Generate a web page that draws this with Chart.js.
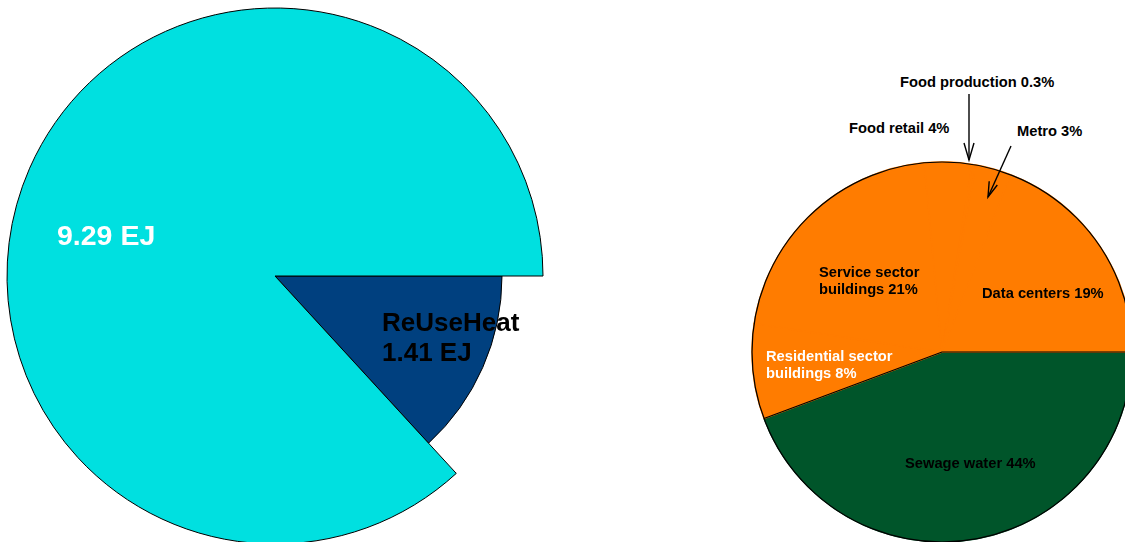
<!DOCTYPE html>
<html>
<head>
<meta charset="utf-8">
<script src="https://cdn.jsdelivr.net/npm/chart.js@4.4.1/dist/chart.umd.min.js"></script>
<style>
  html, body { margin:0; padding:0; background:#fff; }
  body { width:1125px; height:542px; overflow:hidden; position:relative; font-family:"Liberation Sans", Arial, sans-serif; }
  canvas { position:absolute; }
  .lbl { position:absolute; font-weight:bold; white-space:nowrap; }
  .s { font-size:14.7px; line-height:17px; color:#000; }
</style>
</head>
<body>
<canvas id="left" width="550" height="552" style="left:0;top:0;width:550px;height:552px"></canvas>
<canvas id="right" width="400" height="400" style="left:742px;top:152px;width:400px;height:400px"></canvas>

<div class="lbl" style="left:57px;top:219px;font-size:28.5px;line-height:32px;color:#fff">9.29 EJ</div>
<div class="lbl" style="left:382px;top:307px;font-size:26px;line-height:30px;color:#000">ReUseHeat<br>1.41 EJ</div>

<div class="lbl s" style="left:900px;top:74.4px">Food production 0.3%</div>
<div class="lbl s" style="left:849px;top:120.4px">Food retail 4%</div>
<div class="lbl s" style="left:1017px;top:123.4px">Metro 3%</div>
<div class="lbl s" style="left:819px;top:264.4px">Service sector<br>buildings 21%</div>
<div class="lbl s" style="left:982px;top:285.4px">Data centers 19%</div>
<div class="lbl s" style="left:766px;top:348.4px;color:#fff">Residential sector<br>buildings 8%</div>
<div class="lbl s" style="left:905px;top:455.4px">Sewage water 44%</div>

<svg width="1125" height="542" style="position:absolute;left:0;top:0;pointer-events:none">
  <g stroke="#000" stroke-width="1.4" fill="none">
    <line x1="969" y1="94" x2="969" y2="160"/>
    <polyline points="964,143 969,160 974,143"/>
    <line x1="1011" y1="146" x2="988" y2="197"/>
    <polyline points="997.3,185 988,197 989.2,181.2"/>
  </g>
</svg>

<script>
// Left pie: energy (EJ)
const leftLabels = ['ReUseHeat', 'Other'];
const leftValues = [1.41, 9.29];
const leftColors = ['#00407F', '#00E0E0'];

// Right pie: shares (%)
const rightLabels = ['Sewage water', 'Residential sector buildings', 'Service sector buildings',
                     'Food retail', 'Food production', 'Metro', 'Data centers'];
const rightValues = [44, 8, 21, 4, 0.3, 3, 19];
const rightColors = ['#00552A', '#FF7C00', '#FF7C00', '#FF7C00', '#FF7C00', '#FF7C00', '#FF7C00'];

// ReUseHeat slice drawn with a smaller radius than the rest
const shrinkPlugin = {
  id: 'shrink',
  afterDatasetsUpdate(chart, args, opts) {
    const meta = chart.getDatasetMeta(0);
    const arc = meta.data[0];
    if (arc) arc.outerRadius = arc.outerRadius * opts.ratio;
  }
};

new Chart(document.getElementById('left'), {
  type: 'pie',
  data: {
    labels: leftLabels,
    datasets: [{
      data: leftValues,
      backgroundColor: leftColors,
      borderColor: '#000',
      borderWidth: 1,
      radius: 268
    }]
  },
  options: {
    responsive: false,
    animation: false,
    events: [],
    rotation: 90,
    layout: { padding: 0 },
    plugins: { legend: { display: false }, tooltip: { enabled: false }, shrink: { ratio: 227/268 } }
  },
  plugins: [shrinkPlugin]
});

// Outline around the whole right pie and the Sewage water slice
const outlinePlugin = {
  id: 'outline',
  afterDatasetsDraw(chart) {
    const meta = chart.getDatasetMeta(0);
    const a = meta.data[0];
    const ctx = chart.ctx;
    ctx.save();
    ctx.strokeStyle = '#000';
    ctx.lineWidth = 1.2;
    ctx.beginPath();
    ctx.arc(a.x, a.y, a.outerRadius, 0, Math.PI * 2);
    ctx.stroke();
    ctx.beginPath();
    ctx.moveTo(a.x + Math.cos(a.startAngle) * a.outerRadius, a.y + Math.sin(a.startAngle) * a.outerRadius);
    ctx.lineTo(a.x, a.y);
    ctx.lineTo(a.x + Math.cos(a.endAngle) * a.outerRadius, a.y + Math.sin(a.endAngle) * a.outerRadius);
    ctx.stroke();
    ctx.restore();
  }
};

new Chart(document.getElementById('right'), {
  type: 'pie',
  data: {
    labels: rightLabels,
    datasets: [{
      data: rightValues,
      backgroundColor: rightColors,
      borderColor: rightColors,
      borderWidth: 1.5,
      radius: 190
    }]
  },
  options: {
    responsive: false,
    animation: false,
    events: [],
    rotation: 90,
    layout: { padding: 0 },
    plugins: { legend: { display: false }, tooltip: { enabled: false } }
  },
  plugins: [outlinePlugin]
});
</script>
</body>
</html>
